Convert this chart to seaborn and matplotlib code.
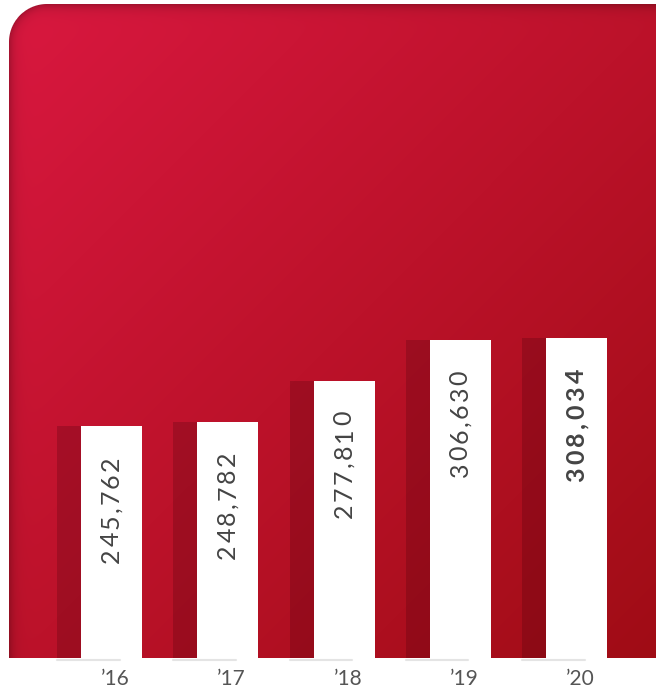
import numpy as np
import pandas as pd
import matplotlib
matplotlib.use("Agg")
import matplotlib.pyplot as plt
import seaborn as sns

# ---- data ----
years = ["\u201916", "\u201917", "\u201918", "\u201919", "\u201920"]
values = [245762, 248782, 277810, 306630, 308034]
value_labels = ["245,762", "248,782", "277,810", "306,630", "308,034"]
bold_flags = [False, False, False, False, True]

W, H = 657, 693
sns.set_theme(style="white")
plt.rcParams["font.family"] = ["Lato", "DejaVu Sans"]

fig = plt.figure(figsize=(W / 100, H / 100), dpi=100)

# ---- background panel (gradient with inner shadow, rounded corner) ----
bg = fig.add_axes([0, 0, 1, 1])
Y, X = np.mgrid[0:H, 0:W] + 0.5
x0, y0, x1, y1, r = 9.0, 4.0, 900.0, 900.0, 38.0
cx, cy = (x0 + x1) / 2, (y0 + y1) / 2
bx, by = (x1 - x0) / 2, (y1 - y0) / 2
qx = np.abs(X - cx) - (bx - r)
qy = np.abs(Y - cy) - (by - r)
d = np.hypot(np.maximum(qx, 0), np.maximum(qy, 0)) + np.minimum(np.maximum(qx, qy), 0) - r
alpha = np.clip(0.5 - d, 0, 1)
alpha[Y > 658] = 0
alpha[X > 656] = 0

c_tl = np.array([218, 24, 64]) / 255
c_br = np.array([158, 12, 20]) / 255
t = np.clip((X + Y) / (W + H), 0, 1)[..., None]
rgb = c_tl * (1 - t) + c_br * t
shade = 0.25 * np.exp(-np.maximum(-d, 0) / 5.0)
rgb = rgb * (1 - shade[..., None])
img = rgb * alpha[..., None] + (1 - alpha[..., None])
bg.imshow(img, extent=(0, W, H, 0), interpolation="bilinear", aspect="auto")
bg.set_xlim(0, W)
bg.set_ylim(H, 0)
bg.axis("off")

# ---- bars ----
ymin = 81500
px_per_unit = 0.001412
bottom_px, top_px = 658, 4
ymax = ymin + (bottom_px - top_px) / px_per_unit
step = 116.25
xa = -111.5 / step
xb = xa + W / step

ax = fig.add_axes([0, (H - bottom_px) / H, 1, (bottom_px - top_px) / H])
ax.patch.set_alpha(0)
df = pd.DataFrame({"year": years, "value": values})

bw = 61 / step
sw = 24 / step
pos = np.arange(len(years))
ax.bar(pos - bw / 2 - sw / 2, np.array(values) - ymin, bottom=ymin, width=sw,
       color="#3a0008", alpha=0.22, linewidth=0)
sns.barplot(data=df, x="year", y="value", order=years, color="white",
            saturation=1, width=bw, ax=ax, linewidth=0)
ax.set_xlim(xa, xb)
ax.set_ylim(ymin, ymax)
ax.axis("off")

renderer = fig.canvas.get_renderer()


def char_widths(s, **kw):
    out = []
    for ch in s:
        tt = fig.text(0, 0, ch, **kw)
        out.append(tt.get_window_extent(renderer).width)
        tt.remove()
    return out


for i, (v, lab, b) in enumerate(zip(values, value_labels, bold_flags)):
    kw = dict(fontsize=18, fontweight="bold" if b else "normal",
              family=["Lato", "DejaVu Sans"])
    ws = char_widths(lab, **kw)
    target = 114 if b else 107
    sp = (target - sum(ws)) / (len(lab) - 1)
    start = -30 - target  # offset (px) of text start below bar top
    off = start
    for ch, w in zip(lab, ws):
        ax.annotate(ch, (i, v), xytext=(0, off), textcoords="offset pixels",
                    rotation=90, ha="center", va="bottom", color="#444444", **kw)
        off += w + sp
    ax.annotate(years[i], (i, ymin), xytext=(4, -21), textcoords="offset pixels",
                ha="center", va="center", fontsize=15, color="#555555",
                annotation_clip=False)
    ax.plot([i - bw / 2 - sw, i + 8 / step], [ymin - 1.5 / px_per_unit] * 2,
            color="#e4e4e4", lw=1.5, clip_on=False)

fig.savefig("out.png", dpi=100)
